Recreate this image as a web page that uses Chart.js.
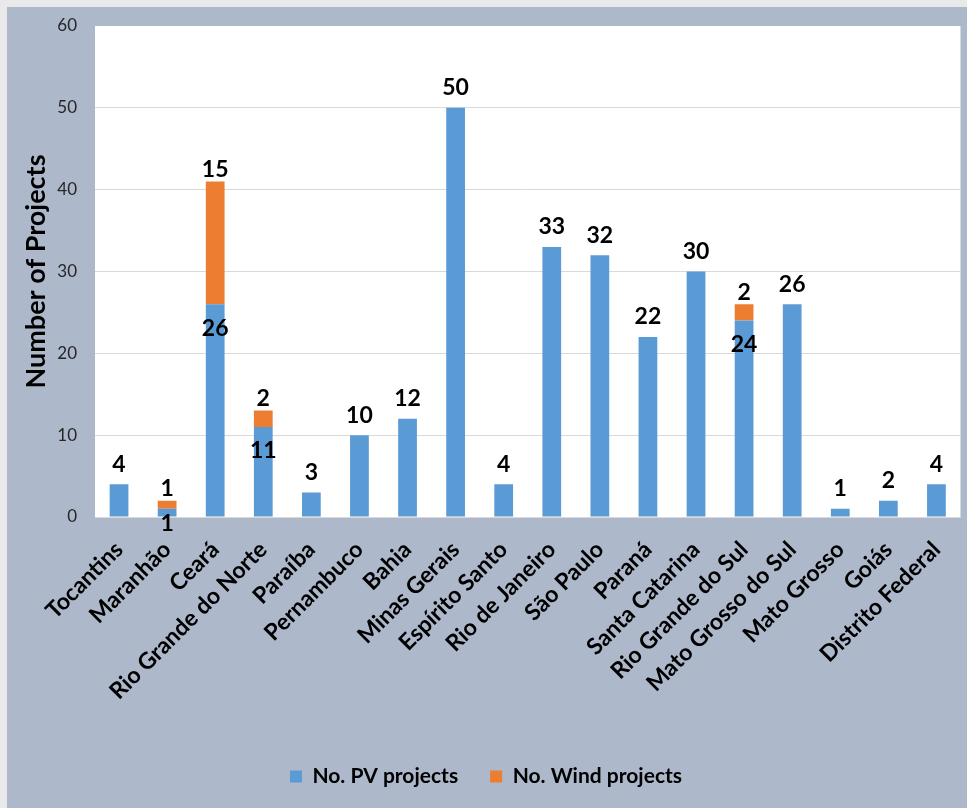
<!DOCTYPE html>
<html>
<head>
<meta charset="utf-8">
<script src="https://cdn.jsdelivr.net/npm/chart.js@4.4.1/dist/chart.umd.min.js"></script>
<style>
  html, body { margin: 0; padding: 0; background: #e9e9e9; }
  #wrap {
    position: absolute;
    left: 7px;
    top: 7px;
    width: 960px;
    height: 801px;
    background: #adb9ca;
  }
</style>
</head>
<body>
<div id="wrap"><canvas id="chart"></canvas></div>
<script>
const STATES = [
  "Tocantins", "Maranhão", "Ceará", "Rio Grande do Norte", "Paraíba",
  "Pernambuco", "Bahia", "Minas Gerais", "Espírito Santo", "Rio de Janeiro",
  "São Paulo", "Paraná", "Santa Catarina", "Rio Grande do Sul",
  "Mato Grosso do Sul", "Mato Grosso", "Goiás", "Distrito Federal"
];
const PV_PROJECTS = [4, 1, 26, 11, 3, 10, 12, 50, 4, 33, 32, 22, 30, 24, 26, 1, 2, 4];
const WIND_PROJECTS = [null, 1, 15, 2, null, null, null, null, null, null, null, null, null, 2, null, null, null, null];
const Y_MIN = 0;
const Y_MAX = 60;
const Y_STEP = 10;

const FONT = "Lato, \"Open Sans\", sans-serif";

// white plotting area over the blue-grey chart background
const plotBackground = {
  id: "plotBackground",
  beforeDraw(chart) {
    const { ctx, chartArea } = chart;
    ctx.save();
    ctx.fillStyle = "#ffffff";
    ctx.fillRect(chartArea.left, chartArea.top, chartArea.right - chartArea.left, chartArea.bottom - chartArea.top);
    ctx.restore();
  }
};

// value labels: PV above its bar, or inside the top when wind sits on it
const barLabels = {
  id: "barLabels",
  afterDatasetsDraw(chart) {
    const { ctx } = chart;
    ctx.save();
    ctx.font = `bold 23px ${FONT}`;
    ctx.fillStyle = "#000000";
    ctx.textAlign = "center";
    ctx.textBaseline = "middle";

    chart.getDatasetMeta(0).data.forEach((bar, i) => {
      const value = PV_PROJECTS[i];
      if (value == null) {
        return;
      }
      const y = WIND_PROJECTS[i] ? Math.min(bar.y + 24, bar.base + 7) : bar.y - 20;
      ctx.fillText(String(value), bar.x, y);
    });

    chart.getDatasetMeta(1).data.forEach((bar, i) => {
      const value = WIND_PROJECTS[i];
      if (!value) {
        return;
      }
      ctx.fillText(String(value), bar.x, bar.y - 12);
    });

    ctx.restore();
  }
};

new Chart(document.getElementById("chart"), {
  type: "bar",
  data: {
    labels: STATES,
    datasets: [
      {
        label: "No. PV projects",
        data: PV_PROJECTS,
        backgroundColor: "#5b9bd5",
        barPercentage: 0.39,
        categoryPercentage: 1
      },
      {
        label: "No. Wind projects",
        data: WIND_PROJECTS,
        backgroundColor: "#ed7d31",
        barPercentage: 0.39,
        categoryPercentage: 1
      }
    ]
  },
  options: {
    animation: false,
    responsive: true,
    maintainAspectRatio: false,
    layout: {
      padding: { top: 19, right: 2, bottom: 11, left: 0 }
    },
    plugins: {
      legend: {
        position: "bottom",
        labels: {
          color: "#000000",
          boxWidth: 12,
          boxHeight: 12,
          padding: 32,
          font: { family: FONT, size: 21, weight: "bold" }
        }
      },
      tooltip: { enabled: false }
    },
    scales: {
      x: {
        stacked: true,
        afterFit(scale) {
          scale.height = 217;
        },
        grid: { display: false },
        border: { color: "#d9d9d9" },
        ticks: {
          color: "#000000",
          minRotation: 45,
          maxRotation: 45,
          padding: 11,
          autoSkip: false,
          font: { family: FONT, size: 23, weight: "bold" }
        }
      },
      y: {
        stacked: true,
        min: Y_MIN,
        max: Y_MAX,
        afterFit(scale) {
          scale.width = 88;
          // keep the tick padding from pushing the plot down
          scale.paddingTop = 0;
          scale.paddingBottom = 0;
        },
        border: { display: false },
        grid: {
          drawTicks: false,
          color: (ctx) => (ctx.tick && ctx.tick.value === Y_MAX ? "rgba(0,0,0,0)" : "#d9d9d9")
        },
        ticks: {
          stepSize: Y_STEP,
          padding: 18,
          color: "#262626",
          font: { family: FONT, size: 17 }
        },
        title: {
          display: true,
          text: "Number of Projects",
          color: "#000000",
          padding: { top: 13, bottom: 4 },
          font: { family: FONT, size: 27, weight: "bold" }
        }
      }
    }
  },
  plugins: [plotBackground, barLabels]
});
</script>
</body>
</html>
